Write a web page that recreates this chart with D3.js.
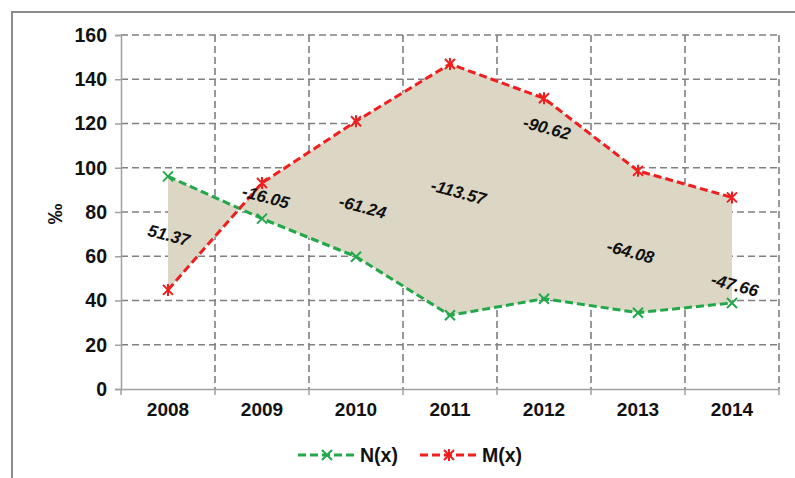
<!DOCTYPE html>
<html><head><meta charset="utf-8">
<script src="https://cdn.jsdelivr.net/npm/d3@7/dist/d3.min.js"></script>
<style>body{margin:0;background:#fff}svg{display:block}text{font-family:"Liberation Sans",Arial,sans-serif;font-weight:bold;fill:#111}</style>
</head><body><svg id="c" width="795" height="478"></svg>
<script>
const years = ["2008","2009","2010","2011","2012","2013","2014"];
const nValues = [96.1, 77.0, 59.8, 33.3, 40.8, 34.5, 38.9];
const mValues = [44.8, 93.1, 121.0, 146.9, 131.4, 98.6, 86.6];
const diffLabels = ["51.37","-16.05","-61.24","-113.57","-90.62","-64.08","-47.66"];
const labelAtIndex = [0.01, 1.04, 2.07, 3.09, 4.03, 4.92, 6.03];
const labelAtValue = [69.5, 86.8, 82.3, 89.0, 118.0, 62.0, 47.0];
const yTicks = [0,20,40,60,80,100,120,140,160];
const seriesNames = ["N(x)","M(x)"];

const svg = d3.select("#c");
const L=121, R=779, T=35, B=389;
const x = d3.scaleBand().domain(years).range([L,R]).padding(0);
const xi = d3.scaleLinear().domain([0, years.length]).range([L,R]);
const y = d3.scaleLinear().domain([0,160]).range([B,T]);
const cx = d => x(d)+x.bandwidth()/2;
const green="#22a84a", red="#f01e1e", grid="#808080";

// outer border
svg.append("rect").attr("x",12).attr("y",12).attr("width",820).attr("height",520)
  .attr("fill","none").attr("stroke","#8c8c8c").attr("stroke-width",2);

// horizontal gridlines
svg.append("g").selectAll("line").data(yTicks.filter(v=>v>0)).join("line")
  .attr("x1",L).attr("x2",R).attr("y1",d=>y(d)).attr("y2",d=>y(d))
  .attr("stroke",grid).attr("stroke-width",1.6).attr("stroke-dasharray","7,4");
// vertical gridlines at band boundaries
const bounds = years.map(d=>x(d)+x.bandwidth());
svg.append("g").selectAll("line").data(bounds).join("line")
  .attr("x1",d=>d).attr("x2",d=>d).attr("y1",T).attr("y2",B)
  .attr("stroke",grid).attr("stroke-width",1.6).attr("stroke-dasharray","7,4");

// area between series
const rows = years.map((d,i)=>({year:d,n:nValues[i],m:mValues[i]}));
svg.append("path").datum(rows)
  .attr("d", d3.area().x(d=>cx(d.year)).y0(d=>y(d.n)).y1(d=>y(d.m)))
  .attr("fill","#dcd7c4");

// axes
const yAxis = d3.axisLeft(y).tickValues(yTicks).tickSize(6).tickPadding(8);
const gy = svg.append("g").attr("transform",`translate(${L},0)`).call(yAxis);
gy.select(".domain").attr("stroke","#a0a0a0").attr("stroke-width",1.5);
gy.selectAll(".tick line").attr("stroke","#a0a0a0").attr("stroke-width",1.5);
gy.selectAll(".tick text").style("font-size","19.5px").attr("fill","#111");

const xAxis = d3.axisBottom(x).tickSize(0).tickPadding(14);
const gx = svg.append("g").attr("transform",`translate(0,${B})`).call(xAxis);
gx.select(".domain").attr("stroke","#a0a0a0").attr("stroke-width",1.5);
gx.selectAll(".tick text").style("font-size","19px").attr("fill","#111");
svg.append("g").selectAll("line").data([L].concat(bounds)).join("line")
  .attr("x1",d=>d).attr("x2",d=>d).attr("y1",B).attr("y2",B+6)
  .attr("stroke","#a0a0a0").attr("stroke-width",1.5);

// y label
svg.append("text").attr("transform","translate(62,214) rotate(-90)")
  .attr("text-anchor","middle").style("font-size","21px").text("‰");

// lines
const line = key => d3.line().x(d=>cx(d.year)).y(d=>y(d[key]));
svg.append("path").datum(rows).attr("d",line("n")).attr("fill","none")
  .attr("stroke",green).attr("stroke-width",3).attr("stroke-dasharray","8,4");
svg.append("path").datum(rows).attr("d",line("m")).attr("fill","none")
  .attr("stroke",red).attr("stroke-width",3).attr("stroke-dasharray","8,4");

function xMark(g, px, py, col){
  const s=5;
  g.append("path").attr("d",`M${px-s},${py-s}L${px+s},${py+s}M${px-s},${py+s}L${px+s},${py-s}`)
   .attr("stroke",col).attr("stroke-width",2).attr("fill","none");
}
function star(g, px, py, col){
  const s=5;
  g.append("path").attr("d",`M${px-s},${py-s}L${px+s},${py+s}M${px-s},${py+s}L${px+s},${py-s}M${px},${py-s-1}L${px},${py+s+1}`)
   .attr("stroke",col).attr("stroke-width",2).attr("fill","none");
}
const gm = svg.append("g");
rows.forEach(d=>{ xMark(gm,cx(d.year),y(d.n),green); star(gm,cx(d.year),y(d.m),red); });

// difference labels
svg.append("g").selectAll("text").data(diffLabels).join("text")
  .attr("transform",(d,i)=>`translate(${xi(labelAtIndex[i]+0.5)},${y(labelAtValue[i])}) rotate(15)`)
  .attr("text-anchor","middle").attr("dy","0.35em")
  .style("font-size","17px").style("font-style","italic").text(d=>d);

// legend
const lg = svg.append("g");
const legendItems = [{name:seriesNames[0],col:green,x0:298,mark:xMark},{name:seriesNames[1],col:red,x0:420,mark:star}];
legendItems.forEach(it=>{
  lg.append("line").attr("x1",it.x0).attr("x2",it.x0+58).attr("y1",455).attr("y2",455)
    .attr("stroke",it.col).attr("stroke-width",3).attr("stroke-dasharray","8,4");
  it.mark(lg,it.x0+29,455,it.col);
  lg.append("text").attr("x",it.x0+62).attr("y",455).attr("dy","0.35em")
    .style("font-size","19.5px").text(it.name);
});
</script></body></html>
